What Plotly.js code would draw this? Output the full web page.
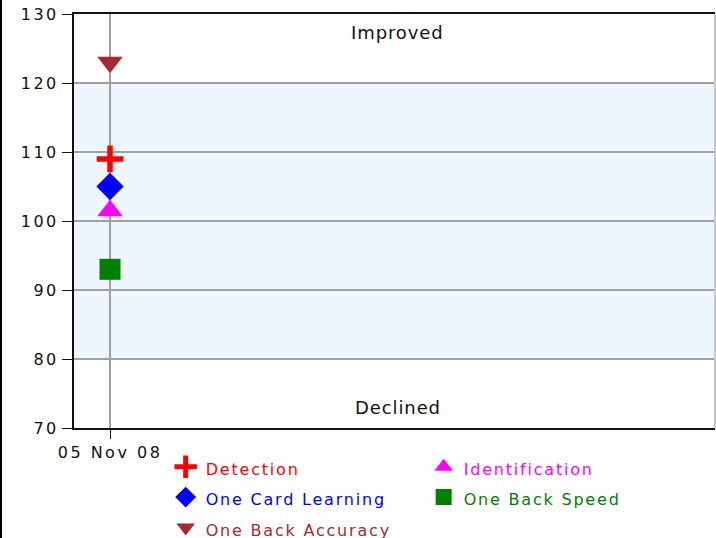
<!DOCTYPE html>
<html>
<head>
<meta charset="utf-8">
<script src="https://cdn.plot.ly/plotly-3.0.1.min.js"></script>
<style>
  html, body { margin: 0; padding: 0; background: #fff; }
  #chart { width: 716px; height: 538px; }
  .xtick text, .ytick text { letter-spacing: 2.5px; }
  .legendtext { letter-spacing: 1.8px; }
  .annotation-text { letter-spacing: 0.9px; }
</style>
</head>
<body>
<div id="chart"></div>
<script>
const dates = ['05 Nov 08'];
const seriesNames = ['Detection', 'Identification', 'One Card Learning', 'One Back Speed', 'One Back Accuracy'];
const detection = [109];
const identification = [101.5];
const oneCardLearning = [105];
const oneBackSpeed = [93];
const oneBackAccuracy = [123];
const yTicks = [70, 80, 90, 100, 110, 120, 130];
const bandRange = [80, 120];
const zoneLabels = ['Improved', 'Declined'];

const colors = ['#ff0000', '#ff00ff', '#0000ff', '#008000', '#a52a2a'];
const symbols = ['cross-thin', 'triangle-up', 'diamond', 'square', 'triangle-down'];
const sizes = [19, 22, 21, 21, 22];
const values = [detection, identification, oneCardLearning, oneBackSpeed, oneBackAccuracy];

const traces = seriesNames.map((n, i) => ({
  type: 'scatter',
  mode: 'markers',
  x: dates,
  y: values[i],
  name: '<span style="font-size:16px;fill:' + colors[i] + '">' + n + '</span>',
  marker: {
    symbol: symbols[i],
    size: sizes[i],
    color: colors[i],
    line: symbols[i] === 'cross-thin' ? {color: colors[i], width: 5.5} : {width: 0}
  },
  hoverinfo: 'x+y'
}));

const layout = {
  width: 716,
  height: 538,
  margin: {l: 74, r: 1, t: 14, b: 110, autoexpand: false},
  paper_bgcolor: '#ffffff',
  plot_bgcolor: '#ffffff',
  font: {family: 'DejaVu Sans, Verdana, sans-serif', color: '#111'},
  showlegend: true,
  legend: {
    orientation: 'h',
    x: 0.143, xanchor: 'left',
    y: -0.045, yanchor: 'top',
    entrywidth: 213, entrywidthmode: 'pixels',
    font: {size: 21, family: 'DejaVu Sans, Verdana, sans-serif'},
    traceorder: 'normal',
    bgcolor: 'rgba(0,0,0,0)'
  },
  xaxis: {
    type: 'category',
    range: [-0.5, 8.4],
    showgrid: true, gridcolor: '#a0a0a0', gridwidth: 2,
    showline: true, linecolor: '#111', linewidth: 2, mirror: true,
    ticks: 'outside', ticklen: 9, tickcolor: '#111', tickwidth: 1,
    tickfont: {size: 16, color: '#111'},
    zeroline: false, fixedrange: true
  },
  yaxis: {
    range: [70, 130],
    tickvals: yTicks,
    showgrid: true, gridcolor: '#a0a0a0', gridwidth: 2,
    showline: true, linecolor: '#111', linewidth: 2,
    ticks: 'outside', ticklen: 10, tickcolor: '#111', tickwidth: 1,
    tickfont: {size: 16, color: '#111'},
    zeroline: false, fixedrange: true
  },
  shapes: [
    {type: 'rect', xref: 'paper', yref: 'y', x0: 0, x1: 1, y0: bandRange[0], y1: bandRange[1],
     fillcolor: '#eef6ff', line: {width: 0}, layer: 'below'},
    {type: 'line', xref: 'paper', yref: 'paper', x0: 1, x1: 1, y0: 0, y1: 1,
     line: {color: '#c8c8c8', width: 2}},
    {type: 'line', xref: 'paper', yref: 'paper', x0: -73/641, x1: -73/641, y0: -0.27, y1: 1.04,
     line: {color: '#000', width: 2}}
  ],
  annotations: [
    {text: zoneLabels[0], xref: 'paper', yref: 'paper', x: 0.505, y: (428 - 33) / 414,
     xanchor: 'center', yanchor: 'middle',
     showarrow: false, font: {size: 18, color: '#111'}},
    {text: zoneLabels[1], xref: 'paper', yref: 'paper', x: 0.505, y: (428 - 407) / 414,
     xanchor: 'center', yanchor: 'middle',
     showarrow: false, font: {size: 18, color: '#111'}}
  ]
};

Plotly.newPlot('chart', traces, layout, {displayModeBar: false, staticPlot: true});
</script>
</body>
</html>
